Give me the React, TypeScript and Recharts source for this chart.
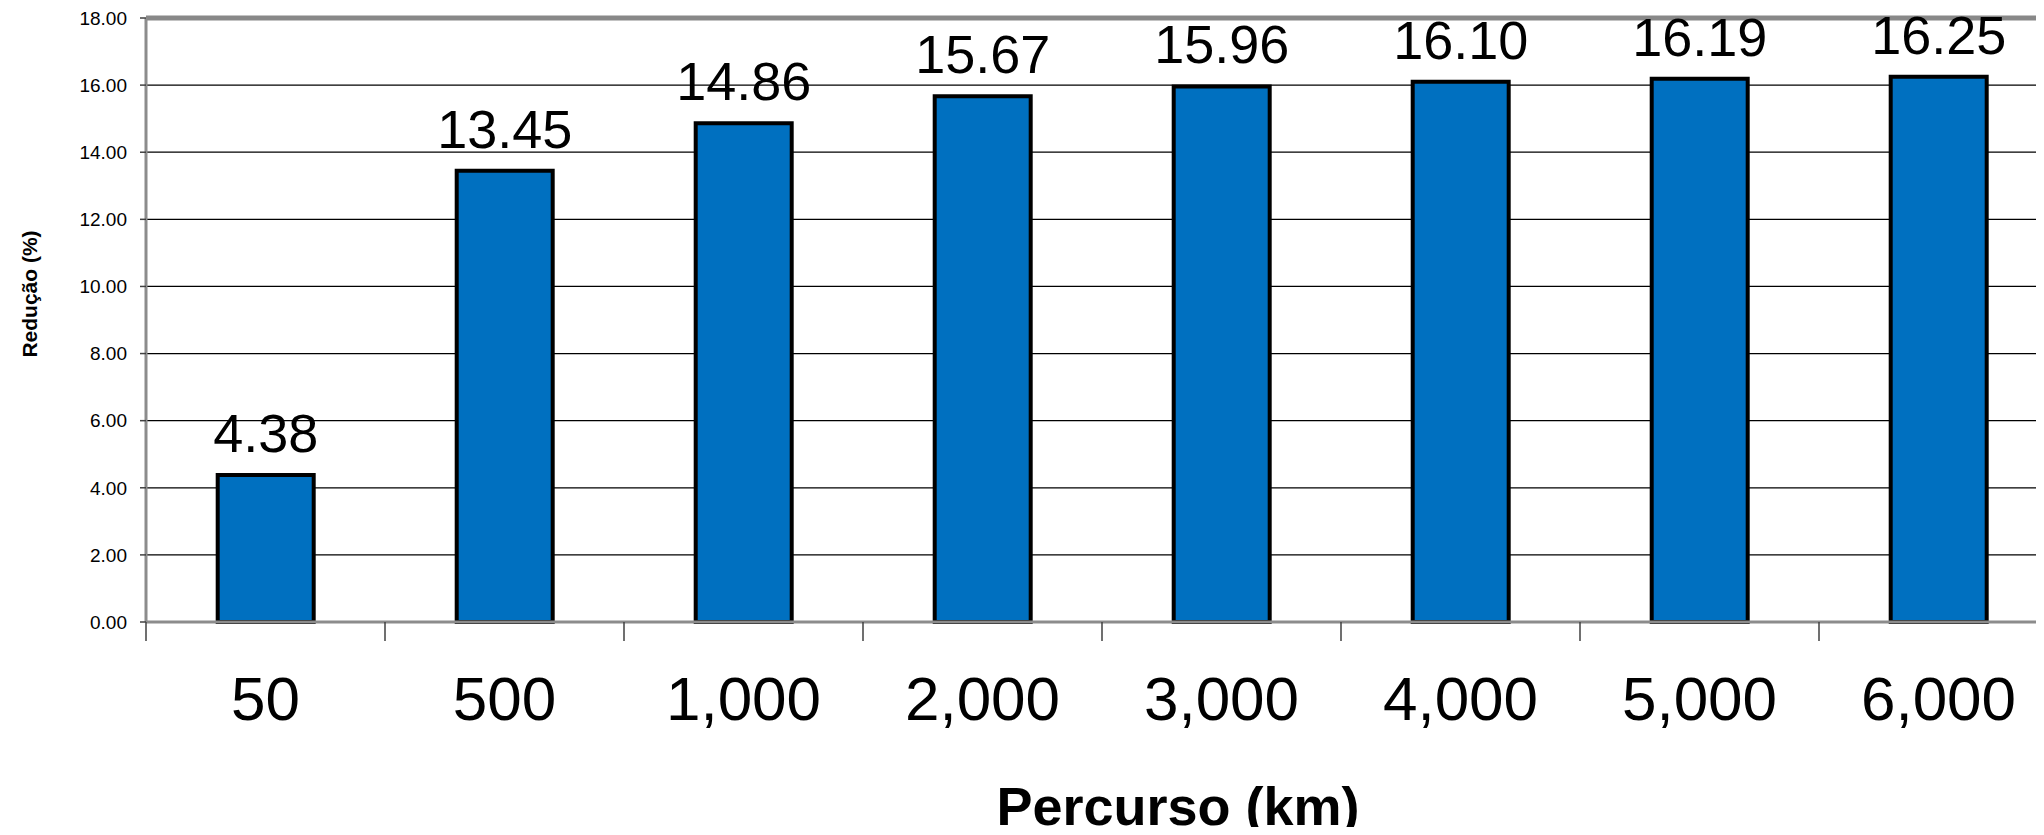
import { BarChart, Bar, XAxis, YAxis, CartesianGrid, LabelList, ReferenceLine } from "recharts";

const categories = ["50", "500", "1,000", "2,000", "3,000", "4,000", "5,000", "6,000"];
const reducao = [4.38, 13.45, 14.86, 15.67, 15.96, 16.1, 16.19, 16.25];
const yTicks = [0, 2, 4, 6, 8, 10, 12, 14, 16, 18];

const data = categories.map((c, i) => ({ percurso: c, reducao: reducao[i] }));

const FONT = "'Liberation Sans', Arial, sans-serif";

// tick text at band centre, tick mark at the band's left edge (Excel style)
function XTick(props: any) {
  const { x, y, payload, width, visibleTicksCount } = props;
  let half = payload?.offset;
  if (!half && width && visibleTicksCount) half = width / visibleTicksCount / 2;
  half = half || 0;
  return (
    <g>
      <line x1={x - half} x2={x - half} y1={y} y2={y + 19} stroke="#404040" strokeWidth={1.5} />
      <text x={x} y={y + 98} textAnchor="middle" fontSize={62} fill="#000" fontFamily={FONT}>
        {payload.value}
      </text>
    </g>
  );
}

export default function App() {
  return (
    <div style={{ margin: -8, width: 2044, height: 835, overflow: "hidden", background: "#fff" }}>
      <BarChart
        width={2060}
        height={835}
        data={data}
        margin={{ top: 18, right: 2, left: 0, bottom: 0 }}
        barCategoryGap="30%"
        style={{ fontFamily: FONT }}
      >
        <CartesianGrid vertical={false} stroke="#000" strokeWidth={1.3} />
        <XAxis
          dataKey="percurso"
          height={213}
          tickSize={0}
          tickMargin={0}
          tick={<XTick />}
          axisLine={{ stroke: "#8c8c8c", strokeWidth: 3 }}
          interval={0}
          label={{
            content: () => (
              <text x={1178} y={825} textAnchor="middle" fontSize={54} fontWeight="bold" fill="#000" fontFamily={FONT}>
                Percurso (km)
              </text>
            ),
          }}
        />
        <YAxis
          width={146}
          domain={[0, 18]}
          ticks={yTicks}
          interval={0}
          tickFormatter={(v: number) => v.toFixed(2)}
          tick={{ fontSize: 19, fill: "#000", fontFamily: FONT }}
          tickSize={6}
          tickMargin={13}
          tickLine={{ stroke: "#404040", strokeWidth: 1.5 }}
          axisLine={{ stroke: "#8c8c8c", strokeWidth: 3 }}
          label={{
            content: () => (
              <text
                x={37}
                y={294}
                transform="rotate(-90 37 294)"
                textAnchor="middle"
                fontSize={21}
                fontWeight="bold"
                fill="#000"
                fontFamily={FONT}
              >
                Redução (%)
              </text>
            ),
          }}
        />
        <ReferenceLine y={18} stroke="#888" strokeWidth={5} />
        <Bar dataKey="reducao" fill="#0070C0" stroke="#000" strokeWidth={4} isAnimationActive={false}>
          <LabelList
            dataKey="reducao"
            position="top"
            offset={23}
            formatter={(v: any) => Number(v).toFixed(2)}
            style={{ fontSize: 54, fill: "#000", fontFamily: FONT }}
          />
        </Bar>
      </BarChart>
    </div>
  );
}
